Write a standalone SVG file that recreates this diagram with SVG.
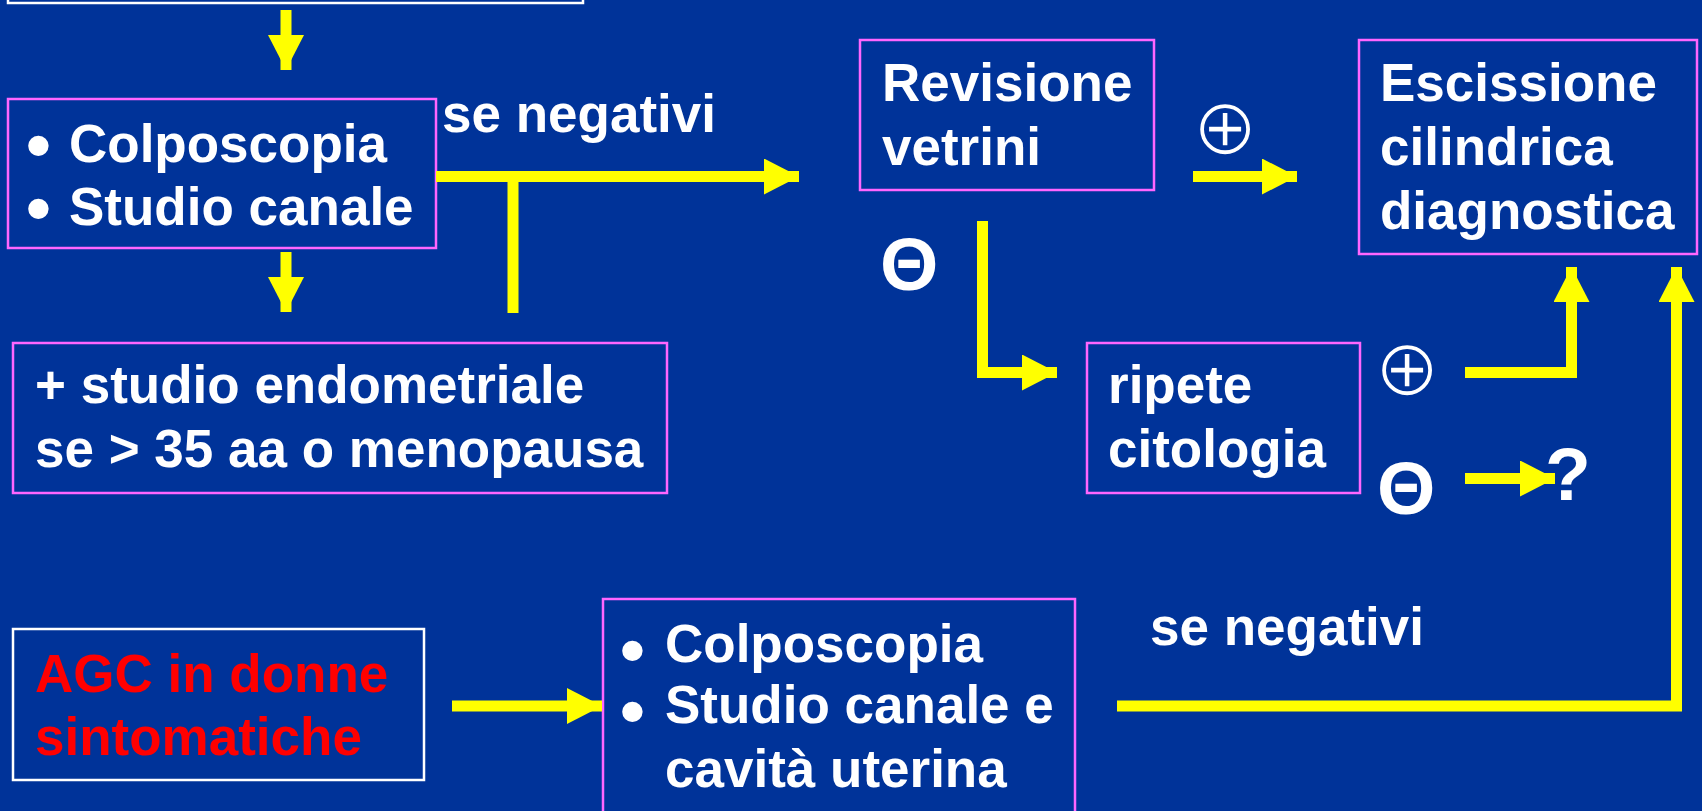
<svg xmlns="http://www.w3.org/2000/svg" width="1702" height="811" viewBox="0 0 1702 811">
<style>
.bg{fill:#003399}
.bm{fill:none;stroke:#ff66ff;stroke-width:2.5}
.bw{fill:none;stroke:#ffffff;stroke-width:2.5}
.t{font-family:"Liberation Sans",Arial,sans-serif;font-weight:bold;font-size:53px;fill:#ffffff}
.r{fill:#ff0000}
.bul{font-size:71px}
.sym{font-family:"Liberation Sans",Arial,sans-serif;font-weight:bold;font-size:75px;fill:#ffffff}
.cp{font-family:"DejaVu Sans",sans-serif;font-size:79px;fill:#ffffff;stroke:#003399;stroke-width:2}
.c{fill:none;stroke:#ffff00;stroke-width:11;stroke-linejoin:miter}
</style>
<defs>
<marker id="ah" viewBox="0 0 35 36" refX="35" refY="18" markerWidth="35" markerHeight="36" markerUnits="userSpaceOnUse" orient="auto">
<path d="M0,0 L35,18 L0,36 Z" fill="#ffff00"/>
</marker>
</defs>
<rect class="bg" x="0" y="0" width="1702" height="811"/>

<g id="top-box"><rect class="bw" x="8" y="-40" width="575" height="43"/></g>

<g id="colpo1">
<rect class="bm" x="8" y="99" width="428" height="149"/>
<text class="t" x="26" y="169"><tspan class="bul">•</tspan><tspan x="69" y="162">Colposcopia</tspan></text>
<text class="t" x="26" y="232"><tspan class="bul">•</tspan><tspan x="69" y="225">Studio canale</tspan></text>
</g>

<g id="endometriale">
<rect class="bm" x="13" y="343" width="654" height="150"/>
<text class="t" x="35" y="403">+ studio endometriale</text>
<text class="t" x="35" y="467">se &gt; 35 aa o menopausa</text>
</g>

<g id="revisione">
<rect class="bm" x="860" y="40" width="294" height="150"/>
<text class="t" x="882" y="101">Revisione</text>
<text class="t" x="882" y="165">vetrini</text>
</g>

<g id="escissione">
<rect class="bm" x="1359" y="40" width="338" height="214"/>
<text class="t" x="1380" y="101">Escissione</text>
<text class="t" x="1380" y="165">cilindrica</text>
<text class="t" x="1380" y="229">diagnostica</text>
</g>

<g id="ripete">
<rect class="bm" x="1087" y="343" width="273" height="150"/>
<text class="t" x="1108" y="403">ripete</text>
<text class="t" x="1108" y="467">citologia</text>
</g>

<g id="agc">
<rect class="bw" x="13" y="629" width="411" height="151"/>
<text class="t r" x="35" y="692">AGC in donne</text>
<text class="t r" x="35" y="755">sintomatiche</text>
</g>

<g id="colpo2">
<rect class="bm" x="603" y="599" width="472" height="260"/>
<text class="t" x="620" y="674"><tspan class="bul">•</tspan><tspan x="665" y="662">Colposcopia</tspan></text>
<text class="t" x="620" y="735"><tspan class="bul">•</tspan><tspan x="665" y="723">Studio canale e</tspan></text>
<text class="t" x="665" y="787">cavità uterina</text>
</g>

<g id="labels">
<text class="t" x="442" y="132">se negativi</text>
<text class="t" x="1150" y="645">se negativi</text>
<text class="cp" x="1192" y="154">⊕</text>
<text class="cp" x="1374" y="395">⊕</text>
<text class="sym" x="880" y="290">Θ</text>
<text class="sym" x="1377" y="514">Θ</text>
<text class="sym" x="1545" y="500">?</text>
</g>

<g id="connectors">
<path class="c" d="M286,10 V70" marker-end="url(#ah)"/>
<path class="c" d="M286,252 V312" marker-end="url(#ah)"/>
<path class="c" d="M436,176.5 H799" marker-end="url(#ah)"/>
<path class="c" d="M513,176.5 V313"/>
<path class="c" d="M1193,176.5 H1297" marker-end="url(#ah)"/>
<path class="c" d="M982.5,221 V372.5 H1057" marker-end="url(#ah)"/>
<path class="c" d="M1465,372.5 H1571.5 V267" marker-end="url(#ah)"/>
<path class="c" d="M1465,478.5 H1555" marker-end="url(#ah)"/>
<path class="c" d="M452,706 H602" marker-end="url(#ah)"/>
<path class="c" d="M1117,706 H1676.5 V267" marker-end="url(#ah)"/>
</g>
</svg>
